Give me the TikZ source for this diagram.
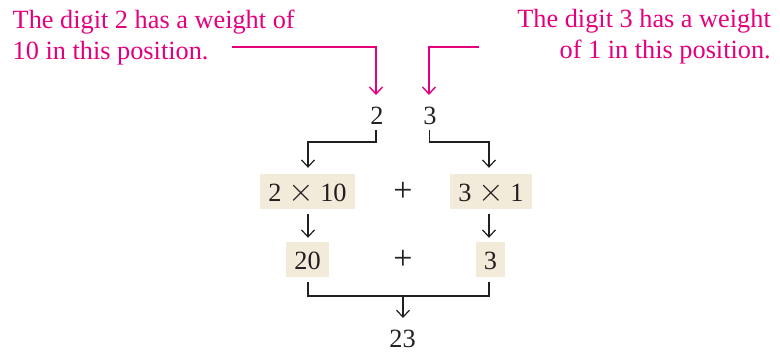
\RequirePackage{fix-cm}
\documentclass[tikz,border=0pt]{standalone}
\usepackage{fontspec}
\setmainfont{Liberation Serif}
\usetikzlibrary{arrows.meta}
\definecolor{callout}{RGB}{228,0,124}
\definecolor{boxfill}{RGB}{242,235,218}
\definecolor{ink}{RGB}{35,31,32}
\newcommand{\bigtimes}{{\fontsize{33}{33}\selectfont$\times$}}
\newcommand{\bigplus}{{\fontsize{34}{34}\selectfont +}}
\tikzset{
  lbl/.style={inner sep=0pt, text=ink, font=\fontsize{26.3}{31}\selectfont},
  calltext/.style={inner sep=0pt, text=callout, font=\fontsize{26.3}{31}\selectfont},
  numbox/.style={lbl, fill=boxfill, inner xsep=8pt, inner ysep=5pt, text height=23pt, text depth=2pt},
  blackarrow/.style={draw=ink, line width=1.2pt, -{Straight Barb[length=7pt,width=13pt]}},
  blackline/.style={draw=ink, line width=1.2pt},
  pinkarrow/.style={draw=callout, line width=1.4pt, -{Straight Barb[length=7pt,width=13pt]}}
}
\begin{document}
\begin{tikzpicture}[x=1pt,y=-1pt]
\useasboundingbox (0,0) rectangle (780,352);
% callouts
\node[calltext, align=left, anchor=north west] (ltext) at (12.5,9.5)
  {The digit 2 has a weight of\\10 in this position.};
\node[calltext, align=right, anchor=north east] (rtext) at (771,9.5)
  {The digit 3 has a weight\\of 1 in this position.};
% digits
\node[lbl, anchor=base] (d2) at (377,125) {2};
\node[lbl, anchor=base] (d3) at (430,125) {3};
% rows
\node[numbox, anchor=base] (b1) at (307.5,202) {2 \bigtimes{} 10};
\node[lbl, anchor=base] (p1) at (403,202) {\bigplus};
\node[numbox, anchor=base] (b2) at (491,202) {3 \bigtimes{} 1};
\node[numbox, anchor=base] (c1) at (307.5,270) {20};
\node[lbl, anchor=base] (p2) at (403,270) {\bigplus};
\node[numbox, anchor=base] (c2) at (490.5,270) {3};
\node[lbl, anchor=base] (res) at (402.5,348) {23};
% column guides
\coordinate (colL) at (308,0);
\coordinate (colR) at (489,0);
\coordinate (colM) at (403,0);
\coordinate (colD2) at (376,0);
\coordinate (colD3) at (429.5,0);
% callout lines
\coordinate (lstart) at (232,47);
\coordinate (rstart) at (479,47);
\coordinate (ltip) at (376,95);
\coordinate (rtip) at (429,95);
\draw[pinkarrow] (lstart) -| (ltip);
\draw[pinkarrow] (rstart) -| (rtip);
% top connectors
\coordinate (d2s) at (colD2 |- d2.south);
\coordinate (d3s) at (colD3 |- d3.south);
\coordinate (hL) at (308,142);
\coordinate (hR) at (489,142);
\draw[blackarrow, shorten >=6pt] ([yshift=-5pt]d2s) |- (hL) -- (colL |- b1.north);
\draw[blackarrow, shorten >=6pt] ([yshift=-5pt]d3s) |- (hR) -- (colR |- b2.north);
% middle arrows
\draw[blackarrow, shorten <=5pt, shorten >=4pt] (colL |- b1.south) -- (colL |- c1.north);
\draw[blackarrow, shorten <=5pt, shorten >=4pt] (colR |- b2.south) -- (colR |- c2.north);
% bottom bracket
\coordinate (jn) at (403,296);
\coordinate (jtip) at (403,318);
\draw[blackline, shorten <=5pt] (colL |- c1.south) |- (jn);
\draw[blackline, shorten <=5pt] (colR |- c2.south) |- (jn);
\draw[blackarrow] (jn) -- (jtip);
\end{tikzpicture}
\end{document}
